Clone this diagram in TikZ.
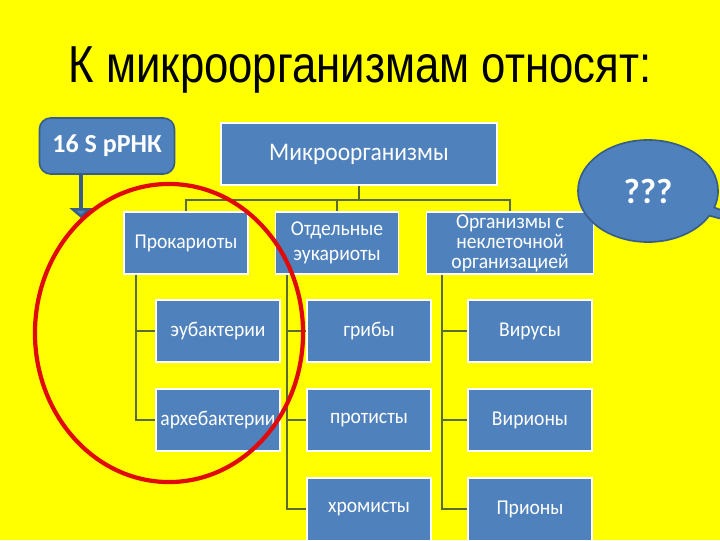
\documentclass[tikz,border=0pt]{standalone}
\usepackage{fontspec}
\setmainfont{Carlito}[FakeStretch=0.93]
\newfontfamily\labelfont{Carlito}
\newfontfamily\titlefont{Liberation Sans}
\usetikzlibrary{positioning, arrows.meta, shapes.callouts}

\definecolor{slideyellow}{RGB}{255,255,0}
\definecolor{boxblue}{RGB}{79,129,189}
\definecolor{edgeblue}{RGB}{56,93,138}
\definecolor{linkolive}{RGB}{88,108,52}
\definecolor{ringred}{RGB}{225,10,10}

\tikzset{
  box/.style={rectangle, fill=boxblue, draw=white, line width=0.8pt,
    text=white, align=center, minimum width=3.1cm, minimum height=1.55cm,
    inner sep=1pt, font=\fontsize{15}{17.5}\selectfont},
  link/.style={draw=linkolive, line width=1.4pt},
}

\begin{document}
\begin{tikzpicture}[x=0.025cm, y=-0.025cm, node distance=2.225cm, on grid]
    % Canvas
    \useasboundingbox (0,0) rectangle (720,540);
    \fill[slideyellow] (0,0) rectangle (720,540);
    \clip (0,0) rectangle (720,540);

    % Title
    \node (title) at (360,70) {\titlefont\fontsize{37}{40}\selectfont
      \scalebox{0.84}[1]{К микроорганизмам относят:}};

    % Top level
    \node[box, minimum width=6.9cm, font=\fontsize{18}{22}\selectfont]
      (micro) at (359,154) {Микроорганизмы};

    % Second level
    \node[box] (prok) at (186,243) {Прокариоты};
    \node[box, minimum width=3.075cm] (euk) at (337,243) {Отдельные\\эукариоты};
    \node[box, minimum width=4.175cm, font=\fontsize{15}{14.2}\selectfont]
      (noncell) at (510,243) {Организмы с\\неклеточной\\организацией};

    % Third level
    \node[box] (eubac) at (218,331) {эубактерии};
    \node[box] (archae) [below=of eubac] {архебактерии};
    \node[box] (fungi) at (369,331) {грибы};
    \node[box] (protist) [below=of fungi] {протисты};
    \node[box] (chromist) [below=of protist] {хромисты};
    \node[box] (virus) at (530,331) {Вирусы};
    \node[box] (virion) [below=of virus] {Вирионы};
    \node[box] (prion) [below=of virion] {Прионы};

    % Tree lines
    \draw[link] (micro.south) -- ++(0,14) -| (prok.north);
    \draw[link] (micro.south) -- ++(0,14) -| (euk.north);
    \draw[link] (micro.south) -- ++(0,14) -| (noncell.north);

    \draw[link] ([xshift=0.325cm]prok.south west) |- (eubac.west);
    \draw[link] ([xshift=0.325cm]prok.south west) |- (archae.west);
    \draw[link] ([xshift=0.3cm]euk.south west) |- (fungi.west);
    \draw[link] ([xshift=0.3cm]euk.south west) |- (protist.west);
    \draw[link] ([xshift=0.3cm]euk.south west) |- (chromist.west);
    \draw[link] ([xshift=0.4cm]noncell.south west) |- (virus.west);
    \draw[link] ([xshift=0.4cm]noncell.south west) |- (virion.west);
    \draw[link] ([xshift=0.4cm]noncell.south west) |- (prion.west);

    % 16S label and its arrow
    \node[rectangle, rounded corners=8pt, fill=boxblue, draw=edgeblue,
      line width=1.2pt, text=white, minimum width=3.375cm, minimum height=1.4cm,
      font=\labelfont\fontsize{18.5}{22}\bfseries] (rrna) at (107,146) {16 S рРНК};
    \coordinate (arrtip) at (81,218);
    \draw[draw=edgeblue, line width=3pt,
      -{Triangle[width=16pt, length=7pt, fill=boxblue]}]
      (rrna.south -| arrtip) -- (arrtip);

    % Red ring
    \draw[ringred, line width=3pt] (169,333) ellipse [x radius=3.35cm, y radius=3.725cm];

    % Question bubble
    \coordinate (tail) at (800,240);
    \node[ellipse callout, callout absolute pointer={(tail)}, callout pointer arc=10,
      fill=boxblue, draw=edgeblue, line width=1.2pt, text=white,
      minimum width=3.5cm, minimum height=2.55cm,
      font=\labelfont\fontsize{25}{30}\bfseries] (ask) at (648,191) {???};
\end{tikzpicture}
\end{document}
